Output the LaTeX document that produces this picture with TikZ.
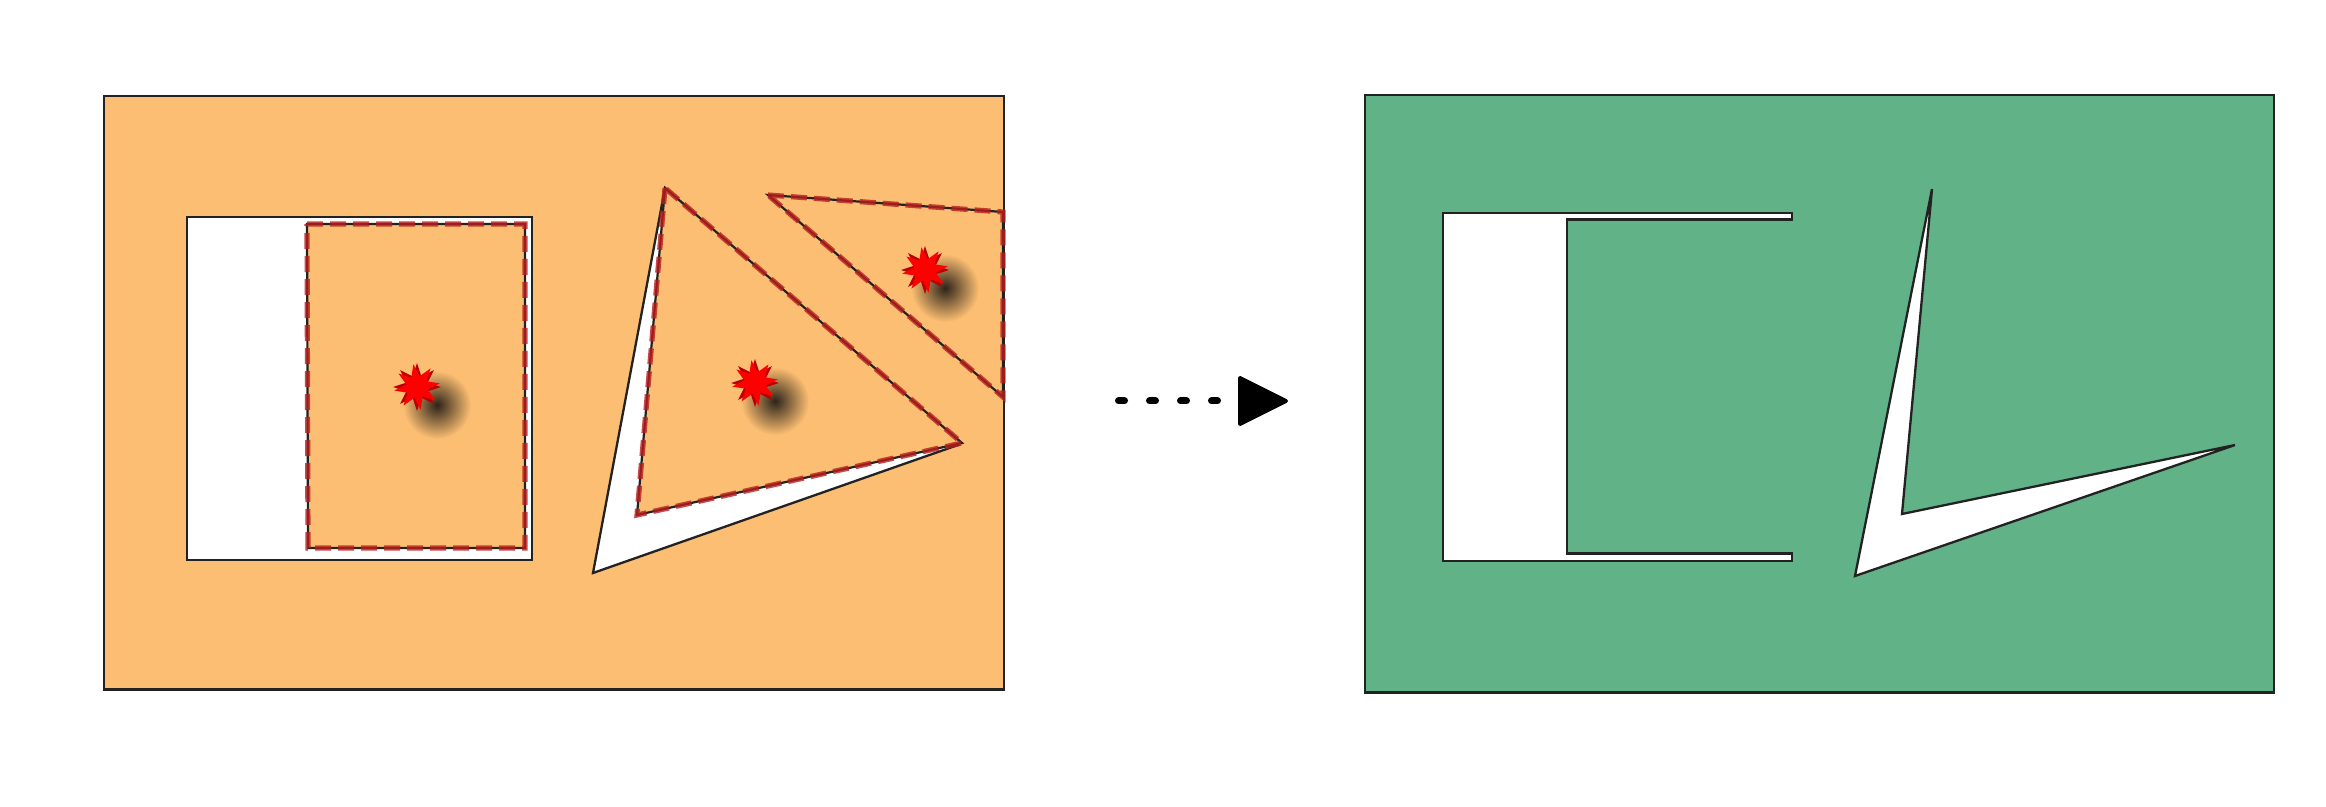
\documentclass[tikz,border=0pt]{standalone}
\usetikzlibrary{shapes.geometric,calc}
\definecolor{orfill}{RGB}{252,190,114}
\definecolor{grfill}{RGB}{98,178,136}
\definecolor{edge}{RGB}{34,34,34}
\definecolor{dashred}{RGB}{185,30,30}
\definecolor{starred}{RGB}{255,0,0}
\definecolor{stardark}{RGB}{185,0,0}
\definecolor{shadowcore}{RGB}{45,36,26}
\tikzset{
  panel/.style={draw=edge, line width=1.2pt, line join=miter},
  hole/.style={fill=white, draw=edge, line width=1.15pt, line join=miter},
  partfill/.style={fill=orfill},
  partline/.style={draw=edge, line width=1.1pt, line join=miter},
  partdash/.style={draw=dashred, draw opacity=0.8, line width=2.6pt, dash pattern=on 8pt off 3.5pt},
  starbase/.style={star, star points=8, star point ratio=2.1, minimum size=24pt, inner sep=0pt, outer sep=0pt},
  stardk/.style={starbase, fill=stardark},
  starlt/.style={starbase, fill=starred, rotate=9, minimum size=23pt},
  softshadow/.style={inner color=shadowcore, outer color=orfill},
  flow/.style={line width=3.5pt, line cap=round, dash pattern=on 3pt off 12.5pt},
  flowhead/.style={fill=black, draw=black, line width=2pt, line join=round}
}
\begin{document}
\begin{tikzpicture}[x=0.5pt,y=-0.5pt]
\useasboundingbox (0,0) rectangle (2326,807);

% ---------- left panel ----------
\fill[orfill] (104,96) rectangle (1004,689.5);
\path[hole] (187,217) rectangle (532,560);
\path[hole] (665,188) -- (593,573) -- (958,445) -- cycle;
\draw[panel] (104,96) rectangle (1004,689.5);

\path[partfill] (307,224) -- (525,224) -- (525,548) -- (308,548) -- cycle;
\path[partfill] (665,188) -- (637,515) -- (962,443) -- cycle;
\path[partfill] (768,195) -- (1003,212) -- (1003,397) -- cycle;

% shadows
\shade[softshadow] (437,405) circle (34);
\shade[softshadow] (775,401) circle (34);
\shade[softshadow] (945,288) circle (34);

\path[partline] (307,224) -- (525,224) -- (525,548) -- (308,548) -- cycle;
\path[partdash] (307,224) -- (525,224) -- (525,548) -- (308,548) -- cycle;
\path[partline] (665,188) -- (637,515) -- (962,443) -- cycle;
\path[partdash] (665,188) -- (637,515) -- (962,443) -- cycle;
\path[partline] (768,195) -- (1003,212) -- (1003,397) -- cycle;
\path[partdash] (768,195) -- (1003,212) -- (1003,397) -- cycle;

\node[stardk] (s1d) at (417,387) {};
\node[starlt] (s1) at (417,387) {};
\node[stardk] (s2d) at (755,383) {};
\node[starlt] (s2) at (755,383) {};
\node[stardk] (s3d) at (925,270) {};
\node[starlt] (s3) at (925,270) {};

% ---------- arrow ----------
\coordinate (arrS) at (1118.5,401);
\coordinate (arrB) at (1240,401);
\coordinate (arrE) at (1286,401);
\draw[flow] (arrS) -- (arrB);
\path[flowhead] ($(arrB)+(0,-23)$) -- (arrE) -- ($(arrB)+(0,23)$) -- cycle;

% ---------- right panel ----------
\fill[grfill] (1365,95) rectangle (2274,692.7);
\path[hole] (1443,213) -- (1792,213) -- (1792,219.5) -- (1567,219.5) -- (1567,553.5) -- (1792,553.5) -- (1792,561) -- (1443,561) -- cycle;
\path[hole] (1932,189) -- (1855,576) -- (2235,445) -- (1902,514) -- cycle;
\draw[panel] (1365,95) rectangle (2274,692.7);
\end{tikzpicture}
\end{document}
